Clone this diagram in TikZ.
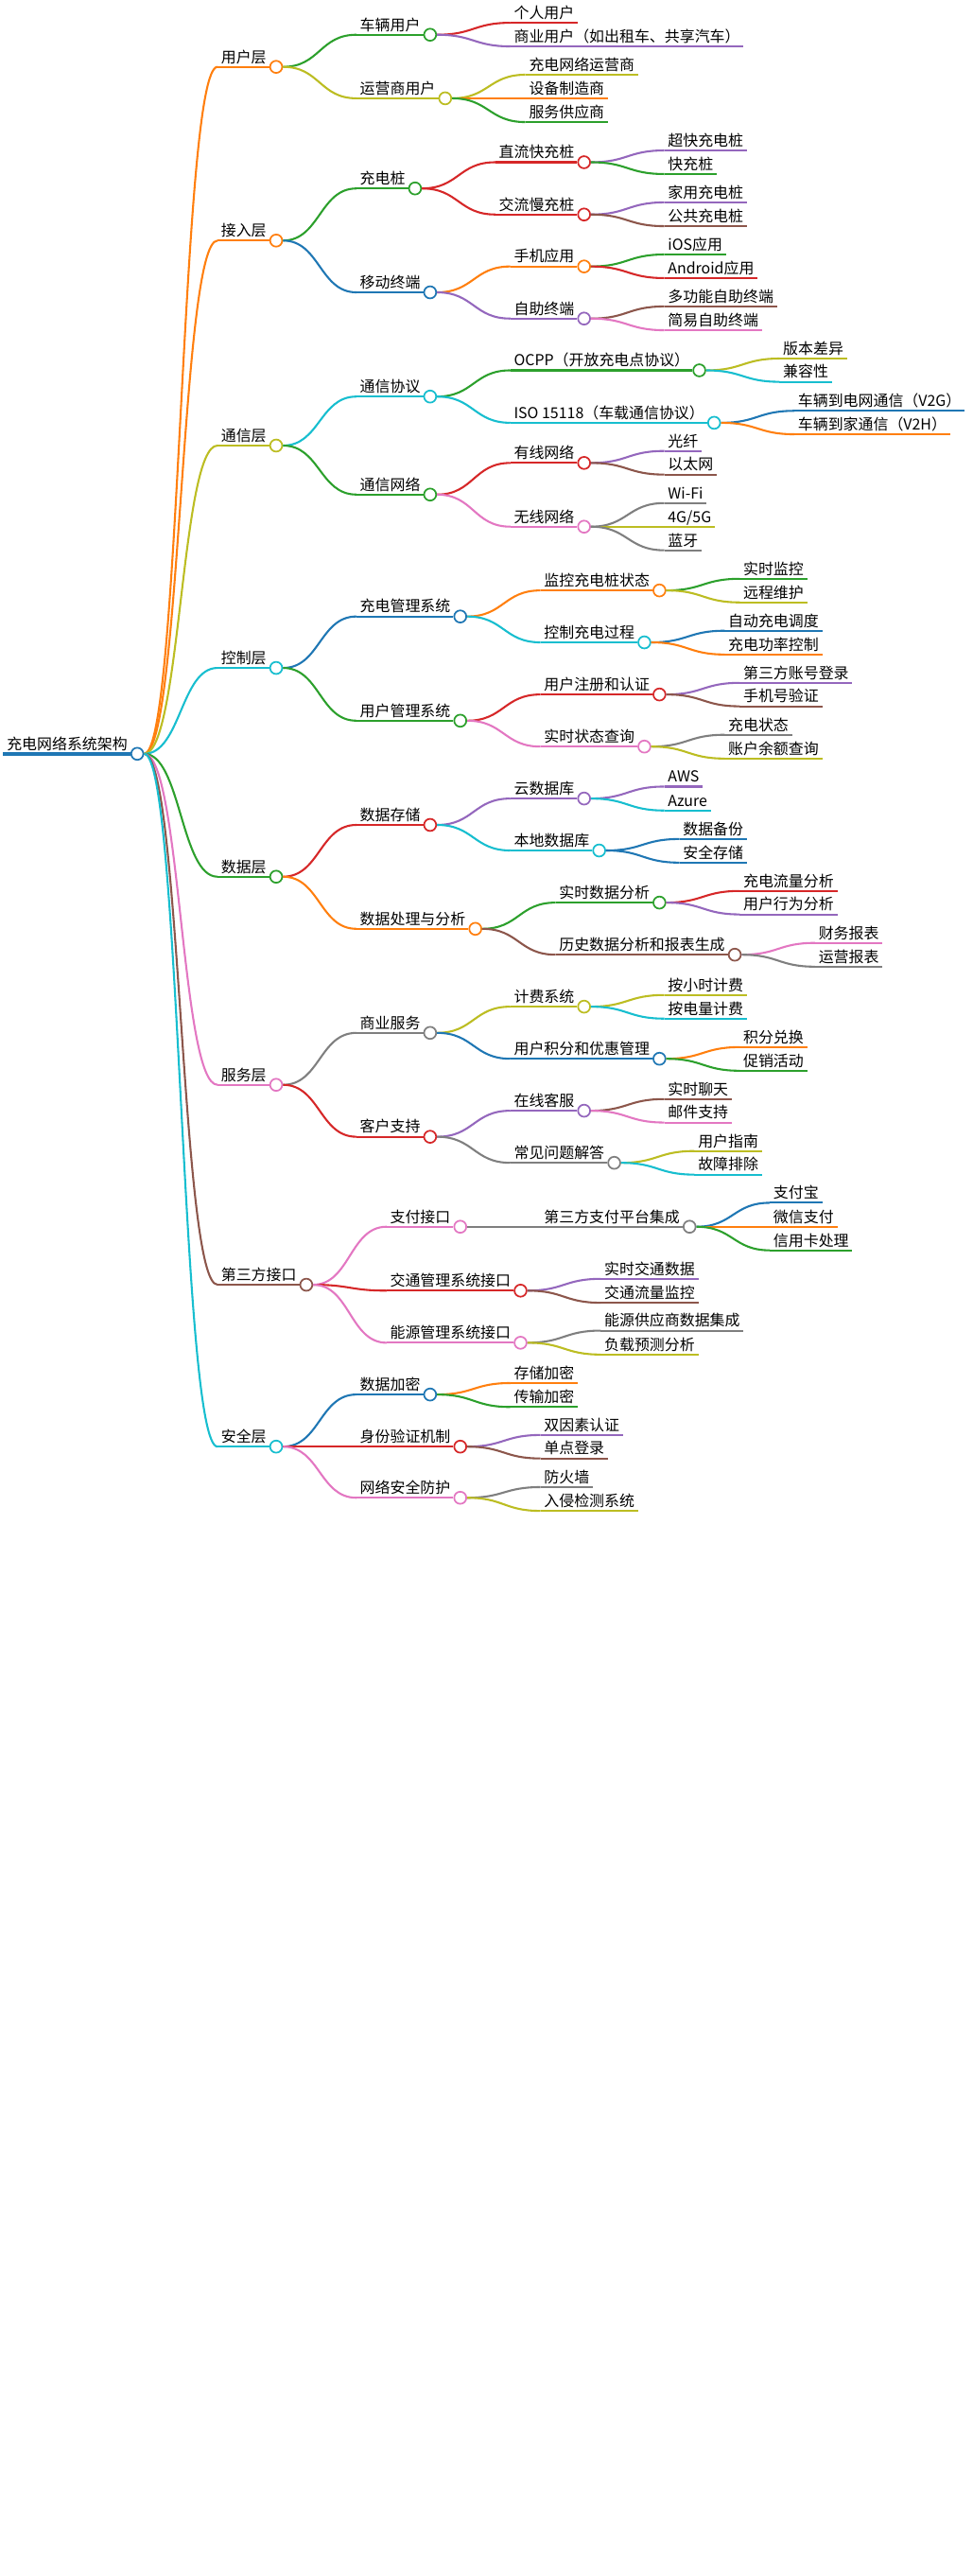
\documentclass[tikz,border=0pt]{standalone}
\usepackage{fontspec}
\setmainfont{Noto Sans CJK SC}
\usetikzlibrary{calc}
\definecolor{cO}{HTML}{FF7F0E}\definecolor{cG}{HTML}{2CA02C}\definecolor{cR}{HTML}{D62728}
\definecolor{cP}{HTML}{9467BD}\definecolor{cBr}{HTML}{8C564B}\definecolor{cK}{HTML}{E377C2}
\definecolor{cY}{HTML}{7F7F7F}\definecolor{cL}{HTML}{BCBD22}\definecolor{cC}{HTML}{17BECF}
\definecolor{cU}{HTML}{1F77B4}
\tikzset{lbl/.style={anchor=south west,inner xsep=2pt,inner ysep=1.5pt,font=\fontsize{9.2}{10}\selectfont,text depth=1pt},
 dot/.style={circle,minimum size=7.4pt,inner sep=0pt,fill=white,line width=1pt},
 ln/.style={line width=1.2pt}}
\newcommand\edgeto[3]{%
 \coordinate (m) at ($(#1.east)!.5!(#2.south west)$);
 \draw[ln,#3] (#1.east) .. controls (m |- #1.east) and (m |- #2.south west) .. (#2.south west);}
\newcommand\hub[5]{%
 \path (#1.center) ++(49,0) coordinate (#2s);
 \node[lbl] (#2) at (#2s |- 0,-#3) {#4};
 \node[dot,draw=#5] (#2c) at ($(#2.south east)+(3.8,0)$) {};
 \edgeto{#1}{#2}{#5}
 \draw[ln,#5] (#2.south west) -- (#2c.west);}
\newcommand\leaf[5]{%
 \path (#1.center) ++(49,0) coordinate (#2s);
 \node[lbl] (#2) at (#2s |- 0,-#3) {#4};
 \edgeto{#1}{#2}{#5}
 \draw[ln,#5] (#2.south west) -- (#2.south east);}
\begin{document}
\begin{tikzpicture}[x=1pt,y=1pt]
\useasboundingbox (0,0) rectangle (594,-1572);
\fill[white] (0,0) rectangle (594,-1572);
\node[lbl] (root) at (2,-460) {充电网络系统架构};
\node[dot,draw=cU] (rootc) at ($(root.south east)+(3.8,0)$) {};
\draw[line width=2.6pt,cU] (root.south west) -- (rootc.west);
% 用户层
\hub{rootc}{a}{40.8}{用户层}{cO}
\hub{ac}{a1}{21.2}{车辆用户}{cG}
\leaf{a1c}{a11}{13.9}{个人用户}{cR}
\leaf{a1c}{a12}{28.3}{商业用户（如出租车、共享汽车）}{cP}
\hub{ac}{a2}{60}{运营商用户}{cL}
\leaf{a2c}{a21}{45.6}{充电网络运营商}{cL}
\leaf{a2c}{a22}{60}{设备制造商}{cO}
\leaf{a2c}{a23}{74.5}{服务供应商}{cG}
% 接入层
\hub{rootc}{b}{146.8}{接入层}{cO}
\hub{bc}{b1}{115}{充电桩}{cG}
\hub{b1c}{b11}{99}{直流快充桩}{cR}
\leaf{b11c}{b111}{91.8}{超快充电桩}{cP}
\leaf{b11c}{b112}{106.2}{快充桩}{cG}
\hub{b1c}{b12}{130.9}{交流慢充桩}{cR}
\leaf{b12c}{b121}{123.5}{家用充电桩}{cP}
\leaf{b12c}{b122}{138}{公共充电桩}{cBr}
\hub{bc}{b2}{178.4}{移动终端}{cU}
\hub{b2c}{b21}{162.6}{手机应用}{cO}
\leaf{b21c}{b211}{155.3}{iOS应用}{cG}
\leaf{b21c}{b212}{169.7}{Android应用}{cR}
\hub{b2c}{b22}{194.4}{自助终端}{cP}
\leaf{b22c}{b221}{187}{多功能自助终端}{cBr}
\leaf{b22c}{b222}{201.5}{简易自助终端}{cK}
% 通信层
\hub{rootc}{c}{271.9}{通信层}{cL}
\hub{cc}{c1}{242}{通信协议}{cC}
\hub{c1c}{c11}{226}{OCPP（开放充电点协议）}{cG}
\leaf{c11c}{c111}{218.8}{版本差异}{cL}
\leaf{c11c}{c112}{233}{兼容性}{cC}
\hub{c1c}{c12}{258}{ISO 15118（车载通信协议）}{cC}
\leaf{c12c}{c121}{250.7}{车辆到电网通信（V2G）}{cU}
\leaf{c12c}{c122}{265}{车辆到家通信（V2H）}{cO}
\hub{cc}{c2}{301.8}{通信网络}{cG}
\hub{c2c}{c21}{282.5}{有线网络}{cR}
\leaf{c21c}{c211}{275.2}{光纤}{cP}
\leaf{c21c}{c212}{289.6}{以太网}{cBr}
\hub{c2c}{c22}{321.4}{无线网络}{cK}
\leaf{c22c}{c221}{307}{Wi-Fi}{cY}
\leaf{c22c}{c222}{321.4}{4G/5G}{cL}
\leaf{c22c}{c223}{335.8}{蓝牙}{cY}
% 控制层
\hub{rootc}{d}{407.6}{控制层}{cC}
\hub{dc}{d1}{376.2}{充电管理系统}{cU}
\hub{d1c}{d11}{360.3}{监控充电桩状态}{cO}
\leaf{d11c}{d111}{353.2}{实时监控}{cG}
\leaf{d11c}{d112}{367.6}{远程维护}{cL}
\hub{d1c}{d12}{392}{控制充电过程}{cC}
\leaf{d12c}{d121}{384.9}{自动充电调度}{cU}
\leaf{d12c}{d122}{399.4}{充电功率控制}{cO}
\hub{dc}{d2}{439.8}{用户管理系统}{cG}
\hub{d2c}{d21}{423.8}{用户注册和认证}{cR}
\leaf{d21c}{d211}{416.7}{第三方账号登录}{cP}
\leaf{d21c}{d212}{431}{手机号验证}{cBr}
\hub{d2c}{d22}{455.6}{实时状态查询}{cK}
\leaf{d22c}{d221}{448.4}{充电状态}{cY}
\leaf{d22c}{d222}{462.9}{账户余额查询}{cL}
% 数据层
\hub{rootc}{e}{535}{数据层}{cG}
\hub{ec}{e1}{503.4}{数据存储}{cR}
\hub{e1c}{e11}{487.3}{云数据库}{cP}
\leaf{e11c}{e111}{480}{AWS}{cP}
\leaf{e11c}{e112}{494.6}{Azure}{cC}
\hub{e1c}{e12}{519}{本地数据库}{cC}
\leaf{e12c}{e121}{512}{数据备份}{cU}
\leaf{e12c}{e122}{526.4}{安全存储}{cU}
\hub{ec}{e2}{566.8}{数据处理与分析}{cO}
\hub{e2c}{e21}{550.8}{实时数据分析}{cG}
\leaf{e21c}{e211}{543.7}{充电流量分析}{cR}
\leaf{e21c}{e212}{558}{用户行为分析}{cP}
\hub{e2c}{e22}{582.6}{历史数据分析和报表生成}{cBr}
\leaf{e22c}{e221}{575.4}{财务报表}{cK}
\leaf{e22c}{e222}{589.9}{运营报表}{cY}
% 服务层
\hub{rootc}{f}{662}{服务层}{cK}
\hub{fc}{f1}{630.3}{商业服务}{cY}
\hub{f1c}{f11}{614.3}{计费系统}{cL}
\leaf{f11c}{f111}{607.2}{按小时计费}{cL}
\leaf{f11c}{f112}{621.6}{按电量计费}{cC}
\hub{f1c}{f12}{646.1}{用户积分和优惠管理}{cU}
\leaf{f12c}{f121}{639}{积分兑换}{cO}
\leaf{f12c}{f122}{653.4}{促销活动}{cG}
\hub{fc}{f2}{693.7}{客户支持}{cR}
\hub{f2c}{f21}{677.8}{在线客服}{cP}
\leaf{f21c}{f211}{670.7}{实时聊天}{cBr}
\leaf{f21c}{f212}{685}{邮件支持}{cK}
\hub{f2c}{f22}{709.6}{常见问题解答}{cY}
\leaf{f22c}{f221}{702.4}{用户指南}{cL}
\leaf{f22c}{f222}{716.8}{故障排除}{cC}
% 第三方接口
\hub{rootc}{g}{784}{第三方接口}{cBr}
\hub{gc}{g1}{748.6}{支付接口}{cK}
\hub{g1c}{g11}{748.6}{第三方支付平台集成}{cY}
\leaf{g11c}{g111}{734}{支付宝}{cU}
\leaf{g11c}{g112}{748.6}{微信支付}{cO}
\leaf{g11c}{g113}{763}{信用卡处理}{cG}
\hub{gc}{g2}{787.6}{交通管理系统接口}{cR}
\leaf{g2c}{g21}{780.4}{实时交通数据}{cP}
\leaf{g2c}{g22}{795}{交通流量监控}{cBr}
\hub{gc}{g3}{819.4}{能源管理系统接口}{cK}
\leaf{g3c}{g31}{812}{能源供应商数据集成}{cY}
\leaf{g3c}{g32}{826.6}{负载预测分析}{cL}
% 安全层
\hub{rootc}{h}{882.8}{安全层}{cC}
\hub{hc}{h1}{851}{数据加密}{cU}
\leaf{h1c}{h11}{844}{存储加密}{cO}
\leaf{h1c}{h12}{858.6}{传输加密}{cG}
\hub{hc}{h2}{882.8}{身份验证机制}{cR}
\leaf{h2c}{h21}{875.7}{双因素认证}{cP}
\leaf{h2c}{h22}{890}{单点登录}{cBr}
\hub{hc}{h3}{914}{网络安全防护}{cK}
\leaf{h3c}{h31}{907.5}{防火墙}{cY}
\leaf{h3c}{h32}{922}{入侵检测系统}{cL}
\end{tikzpicture}
\end{document}
